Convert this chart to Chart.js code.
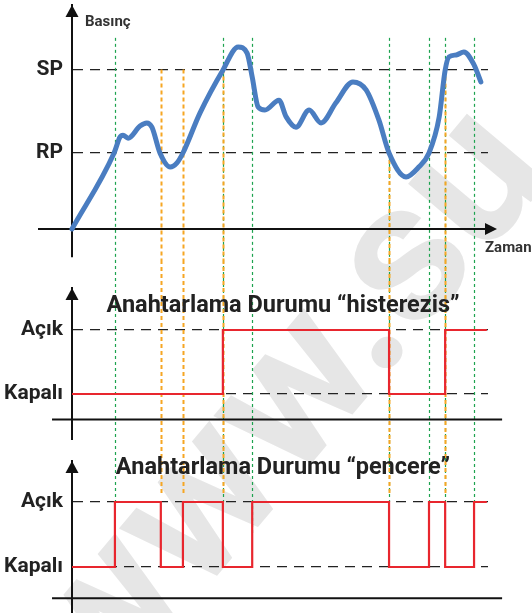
<!DOCTYPE html>
<html>
<head>
<meta charset="utf-8">
<script src="https://cdn.jsdelivr.net/npm/chart.js@4.4.0/dist/chart.umd.min.js"></script>
<style>
body { margin:0; background:#fff; width:532px; height:613px; overflow:hidden; position:relative; }
#mark { position:absolute; left:-25px; top:603px; font:bold 200px Roboto, sans-serif; color:#e6e6e6;
        white-space:nowrap; line-height:1; transform-origin:0 0; transform:rotate(-50deg); }
canvas { position:absolute; left:0; }
</style>
</head>
<body>
<div id="mark">www.su</div>
<canvas id="press" width="532" height="260" style="top:0"></canvas>
<canvas id="hyst" width="532" height="180" style="top:260px"></canvas>
<canvas id="win" width="532" height="173" style="top:440px"></canvas>
<script>
// pressure curve (time units, pressure units)
const pressTime  = [0, 9.9, 11.3, 12.0, 13.2, 16.0, 17.6, 18.8, 20.7, 23.1, 24.7, 26.1, 30.1, 35.5, 39.1, 41.2, 42.4, 43.8, 45.4, 48.7, 50.4, 52.7, 55.8, 58.6, 62.1, 66.1, 69.2, 72.2, 74.6, 78.6, 81.6, 84.0, 86.4, 87.8, 88.7, 90.4, 92.2, 94.6, 96.2];
const pressValue = [0, 2.0, 2.42, 2.47, 2.39, 2.71, 2.79, 2.68, 2.0, 1.63, 1.74, 2.0, 3.05, 4.18, 4.79, 4.63, 4.0, 3.21, 3.13, 3.39, 2.95, 2.68, 3.13, 2.79, 3.32, 3.87, 3.66, 2.87, 2.0, 1.37, 1.63, 2.0, 2.95, 4.18, 4.53, 4.58, 4.66, 4.32, 3.87];
const RP = 2.0, SP = 4.2;
const pressTicks = [RP, SP];
const pressTickLabels = ['RP', 'SP'];

const stateTicks = [0, 1];
const stateTickLabels = ['Kapalı', 'Açık'];

// switching states: 0 = Kapalı, 1 = Açık
const hystTime  = [0, 35.5, 74.6, 87.8, 97.6];
const hystState = [0, 1, 0, 1, 1];
const winTime  = [0, 10.1, 20.9, 26.1, 35.5, 42.4, 74.6, 84.0, 87.8, 94.6, 97.6];
const winState = [0, 1, 0, 1, 0, 1, 0, 1, 0, 1, 1];

// guide lines
const greenTimes  = [10.1, 35.5, 42.4, 74.6, 84.0, 87.8, 94.6];
const greenEndWin = [1, 1, 0.5, 1, 1, 1, 1];
const orangeTimes = [20.9, 26.1, 35.5, 74.6, 87.8];
const orangeFrom  = [SP, SP, SP, RP, SP];

const FONT = 'Roboto, sans-serif';
const PX_PER_T = 4.25, LEFT = 72, RIGHT = 488;

function pts(xs, ys) {
	return xs.map((x, i) => ({x: x, y: ys[i]}));
}

function arrowUp(ctx, x, y) {
	ctx.beginPath();
	ctx.moveTo(x, y);
	ctx.lineTo(x - 6.5, y + 12);
	ctx.lineTo(x + 6.5, y + 12);
	ctx.closePath();
	ctx.fill();
}

function arrowRight(ctx, x, y) {
	ctx.beginPath();
	ctx.moveTo(x, y);
	ctx.lineTo(x - 12, y - 6);
	ctx.lineTo(x - 12, y + 6);
	ctx.closePath();
	ctx.fill();
}

function vline(ctx, x, y1, y2, color, width, dash) {
	ctx.save();
	ctx.strokeStyle = color;
	ctx.lineWidth = width;
	ctx.setLineDash(dash);
	ctx.beginPath();
	ctx.moveTo(x, y1);
	ctx.lineTo(x, y2);
	ctx.stroke();
	ctx.restore();
}

function buildPanel(id, spec) {
	const areaTop = spec.areaTop - spec.top;
	const areaBottom = spec.areaBottom - spec.top;
	const yMax = (spec.zero - spec.areaTop) / spec.unit;
	const yMin = (spec.zero - spec.areaBottom) / spec.unit;

	const deco = {
		id: 'deco',
		beforeDatasetsDraw(chart) {
			const ctx = chart.ctx, xs = chart.scales.x, ys = chart.scales.y;
			// guide lines
			greenTimes.forEach((t, i) => {
				const r = spec.green(i, ys, chart.height);
				vline(ctx, Math.round(xs.getPixelForValue(t)) + 0.5, r[0], r[1], '#1da34f', 1.2, [3, 3]);
			});
			orangeTimes.forEach((t, i) => {
				const r = spec.orange(i, ys, chart.height);
				vline(ctx, Math.round(xs.getPixelForValue(t)) + 0.5, r[0], r[1], '#f6a623', 2, [4, 3]);
			});
			// time axis
			ctx.save();
			ctx.strokeStyle = '#111';
			ctx.fillStyle = '#111';
			ctx.lineWidth = 2;
			const ay = ys.getPixelForValue(spec.axisAt);
			const x1 = xs.getPixelForValue(spec.axisFrom), x2 = xs.getPixelForValue(spec.axisTo);
			ctx.beginPath();
			ctx.moveTo(x1, ay);
			ctx.lineTo(spec.arrow ? x2 - 6 : x2, ay);
			ctx.stroke();
			if (spec.arrow) arrowRight(ctx, x2, ay);
			arrowUp(ctx, xs.getPixelForValue(0), chart.chartArea.top);
			ctx.restore();
		},
		afterDraw(chart) {
			const ctx = chart.ctx;
			ctx.save();
			for (const t of spec.texts) {
				ctx.font = 'bold ' + t.size + 'px ' + FONT;
				ctx.fillStyle = t.color || '#222';
				ctx.textAlign = t.align;
				ctx.textBaseline = 'alphabetic';
				ctx.fillText(t.text, t.x, t.y - spec.top);
			}
			ctx.restore();
		}
	};

	return new Chart(document.getElementById(id), {
		type: 'line',
		data: { datasets: [spec.dataset] },
		options: {
			responsive: false,
			animation: false,
			events: [],
			layout: { padding: { top: areaTop, bottom: spec.height - areaBottom, left: 0, right: 532 - RIGHT } },
			plugins: { legend: { display: false }, tooltip: { enabled: false } },
			scales: {
				x: { type: 'linear', display: false, min: 0, max: (RIGHT - LEFT) / PX_PER_T },
				y: {
					min: yMin, max: yMax,
					afterFit: s => { s.width = LEFT; s.paddingTop = 0; s.paddingBottom = 0; },
					afterBuildTicks: s => { s.ticks = spec.ticks.map(v => ({ value: v })); },
					ticks: {
						callback: (v, i) => spec.labels[i],
						font: { family: FONT, weight: 'bold', size: 21 },
						color: '#222',
						padding: 9
					},
					grid: { color: '#222', lineWidth: 1.3, drawTicks: false },
					border: { display: true, color: '#111', width: 2, dash: [10, 7] }
				}
			}
		},
		plugins: [deco]
	});
}

buildPanel('press', {
	top: 0, height: 260, areaTop: 5, areaBottom: 257, zero: 229, unit: 38,
	ticks: pressTicks, labels: pressTickLabels,
	axisAt: 0, axisFrom: -8, axisTo: 100, arrow: true,
	green: (i, ys, h) => [ys.getPixelForValue(5.03), h],
	orange: (i, ys, h) => [ys.getPixelForValue(orangeFrom[i]), h],
	dataset: {
		data: pts(pressTime, pressValue),
		borderColor: '#4a7dc1', borderWidth: 5, pointRadius: 0,
		cubicInterpolationMode: 'monotone', borderCapStyle: 'round', borderJoinStyle: 'round', clip: false
	},
	texts: [
		{ text: 'Basınç', x: 85, y: 26, size: 15, align: 'left', color: '#333' },
		{ text: 'Zaman', x: 485, y: 252, size: 15, align: 'left', color: '#333' }
	]
});

buildPanel('hyst', {
	top: 260, height: 180, areaTop: 288, areaBottom: 440, zero: 394, unit: 64,
	ticks: stateTicks, labels: stateTickLabels,
	axisAt: -0.4, axisFrom: -4.7, axisTo: 101.2, arrow: false,
	green: (i, ys, h) => [0, h],
	orange: (i, ys, h) => [0, h],
	dataset: {
		data: pts(hystTime, hystState),
		borderColor: '#e8262e', borderWidth: 2.2, pointRadius: 0, stepped: 'before', clip: false
	},
	texts: [
		{ text: 'Anahtarlama Durumu “histerezis”', x: 283, y: 312, size: 23.5, align: 'center' }
	]
});

buildPanel('win', {
	top: 440, height: 173, areaTop: 461, areaBottom: 613, zero: 567, unit: 65,
	ticks: stateTicks, labels: stateTickLabels,
	axisAt: -0.48, axisFrom: -4.7, axisTo: 101.2, arrow: false,
	green: (i, ys, h) => [0, ys.getPixelForValue(greenEndWin[i])],
	orange: (i, ys, h) => [0, ys.getPixelForValue(1.14)],
	dataset: {
		data: pts(winTime, winState),
		borderColor: '#e8262e', borderWidth: 2.2, pointRadius: 0, stepped: 'before', clip: false
	},
	texts: [
		{ text: 'Anahtarlama Durumu “pencere”', x: 283, y: 474, size: 23.5, align: 'center' }
	]
});
</script>
</body>
</html>
